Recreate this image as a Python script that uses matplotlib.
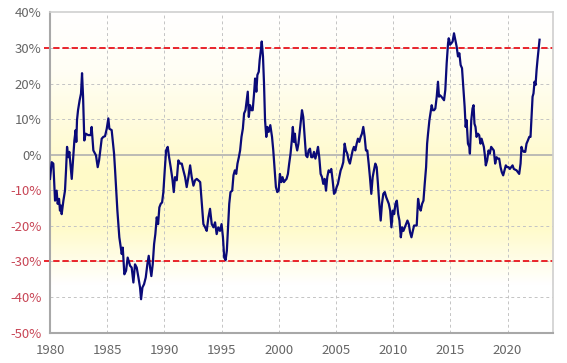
import numpy as np
import matplotlib
matplotlib.use("Agg")
import matplotlib.pyplot as plt
import matplotlib.transforms as mtransforms
from matplotlib.colors import LinearSegmentedColormap

plt.rcParams["font.family"] = ["Noto Sans CJK JP", "DejaVu Sans"]

# ── Data ──────────────────────────────────────
years = [
    1980.00, 1980.15, 1980.29, 1980.44, 1980.58, 1980.67, 1980.79, 1980.87, 1980.96, 1981.02,
    1981.17, 1981.31, 1981.40, 1981.49, 1981.60, 1981.69, 1981.78, 1981.90, 1982.01, 1982.13,
    1982.24, 1982.30, 1982.36, 1982.45, 1982.59, 1982.71, 1982.80, 1982.89, 1983.00, 1983.12,
    1983.35, 1983.56, 1983.64, 1983.79, 1983.94, 1984.02, 1984.17, 1984.29, 1984.40, 1984.52,
    1984.66, 1984.81, 1984.96, 1985.10, 1985.19, 1985.39, 1985.60, 1985.69, 1985.89, 1986.06,
    1986.27, 1986.36, 1986.50, 1986.65, 1986.79, 1987.00, 1987.14, 1987.29, 1987.43, 1987.58,
    1987.73, 1987.87, 1987.96, 1988.08, 1988.22, 1988.37, 1988.51, 1988.63, 1988.75, 1988.86,
    1988.98, 1989.10, 1989.21, 1989.33, 1989.45, 1989.56, 1989.68, 1989.80, 1989.91, 1990.03,
    1990.15, 1990.29, 1990.41, 1990.55, 1990.70, 1990.82, 1990.93, 1991.08, 1991.22, 1991.37,
    1991.52, 1991.66, 1991.81, 1991.95, 1992.10, 1992.25, 1992.39, 1992.54, 1992.68, 1992.83,
    1992.97, 1993.13, 1993.27, 1993.41, 1993.56, 1993.70, 1993.85, 1993.99, 1994.14, 1994.29,
    1994.43, 1994.57, 1994.71, 1994.86, 1995.00, 1995.12, 1995.23, 1995.35, 1995.46, 1995.58,
    1995.67, 1995.78, 1995.93, 1996.04, 1996.16, 1996.28, 1996.39, 1996.51, 1996.62, 1996.74,
    1996.86, 1996.97, 1997.09, 1997.20, 1997.29, 1997.38, 1997.49, 1997.61, 1997.72, 1997.84,
    1997.93, 1998.04, 1998.13, 1998.25, 1998.33, 1998.42, 1998.51, 1998.62, 1998.71, 1998.80,
    1998.91, 1999.00, 1999.12, 1999.26, 1999.41, 1999.52, 1999.64, 1999.75, 1999.87, 1999.99,
    2000.10, 2000.22, 2000.33, 2000.45, 2000.57, 2000.68, 2000.80, 2000.91, 2001.03, 2001.14,
    2001.23, 2001.32, 2001.41, 2001.49, 2001.61, 2001.72, 2001.91, 2002.03, 2002.14, 2002.26,
    2002.38, 2002.50, 2002.61, 2002.73, 2002.84, 2002.96, 2003.08, 2003.20, 2003.31, 2003.43,
    2003.54, 2003.66, 2003.78, 2003.89, 2004.01, 2004.13, 2004.24, 2004.36, 2004.48, 2004.59,
    2004.71, 2004.83, 2004.94, 2005.06, 2005.17, 2005.29, 2005.41, 2005.52, 2005.64, 2005.76,
    2005.87, 2005.99, 2006.11, 2006.22, 2006.34, 2006.46, 2006.57, 2006.69, 2006.81, 2006.92,
    2007.04, 2007.16, 2007.27, 2007.39, 2007.51, 2007.62, 2007.74, 2007.86, 2007.97, 2008.09,
    2008.21, 2008.32, 2008.44, 2008.56, 2008.67, 2008.79, 2008.91, 2009.02, 2009.14, 2009.27,
    2009.39, 2009.51, 2009.62, 2009.74, 2009.85, 2009.97, 2010.09, 2010.20, 2010.32, 2010.44,
    2010.55, 2010.67, 2010.78, 2010.90, 2011.02, 2011.13, 2011.25, 2011.37, 2011.48, 2011.60,
    2011.72, 2011.83, 2011.95, 2012.06, 2012.18, 2012.30, 2012.41, 2012.53, 2012.65, 2012.76,
    2012.88, 2012.97, 2013.05, 2013.17, 2013.28, 2013.37, 2013.46, 2013.58, 2013.69, 2013.81,
    2013.92, 2014.01, 2014.10, 2014.22, 2014.33, 2014.45, 2014.56, 2014.68, 2014.80, 2014.86,
    2014.97, 2015.09, 2015.20, 2015.32, 2015.43, 2015.55, 2015.67, 2015.79, 2015.90, 2016.02,
    2016.13, 2016.25, 2016.34, 2016.42, 2016.54, 2016.66, 2016.71, 2016.83, 2016.94, 2017.03,
    2017.11, 2017.20, 2017.29, 2017.41, 2017.52, 2017.64, 2017.73, 2017.81, 2017.93, 2018.02,
    2018.10, 2018.22, 2018.34, 2018.45, 2018.57, 2018.69, 2018.80, 2018.92, 2019.04, 2019.15,
    2019.27, 2019.39, 2019.50, 2019.62, 2019.74, 2019.85, 2019.97, 2020.09, 2020.20, 2020.32,
    2020.44, 2020.55, 2020.67, 2020.79, 2020.90, 2021.02, 2021.14, 2021.22, 2021.31, 2021.43,
    2021.55, 2021.66, 2021.78, 2021.90, 2022.01, 2022.10, 2022.19, 2022.27, 2022.36, 2022.45,
    2022.54, 2022.62, 2022.71, 2022.80,
]
deviation = [
    -6.8, -2.1, -2.5, -12.9, -10.1, -13.8, -12.4, -15.7, -14.3, -16.7,
    -12.9, -10.1, -4.4, 2.2, -0.7, 0.8, -2.5, -6.8, -1.6, 4.0,
    6.9, 3.6, 9.7, 12.5, 15.3, 17.2, 22.9, 16.3, 4.0, 5.9,
    5.5, 5.5, 7.8, 1.2, 0.3, -0.2, -3.5, -1.6, 1.2, 4.5,
    5.0, 5.2, 7.3, 10.2, 7.3, 6.9, 0.3, -4.4, -15.7, -23.2,
    -27.9, -26.1, -33.6, -32.6, -28.9, -31.2, -31.7, -35.9, -30.8, -31.7,
    -34.5, -37.3, -40.6, -37.3, -36.4, -34.5, -30.8, -28.4, -31.7, -34.1,
    -30.8, -25.1, -22.3, -17.6, -19.5, -14.8, -13.8, -13.4, -10.5, -4.4,
    1.2, 2.2, -0.7, -3.5, -6.8, -10.5, -6.3, -7.2, -1.6, -2.5,
    -2.5, -4.4, -6.3, -9.1, -6.3, -3.0, -6.3, -8.7, -7.2, -6.8,
    -7.2, -7.7, -13.8, -19.5, -20.4, -21.4, -17.6, -15.2, -19.5, -20.4,
    -19.0, -22.3, -20.4, -21.4, -19.5, -23.2, -28.9, -29.6, -27.0, -19.5,
    -13.8, -10.5, -10.1, -5.8, -4.4, -5.4, -2.5, -0.7, 1.2, 5.0,
    7.3, 11.6, 12.5, 15.3, 17.7, 10.6, 13.9, 12.5, 12.5, 17.2,
    21.4, 17.7, 22.4, 23.3, 26.6, 29.0, 31.8, 27.6, 20.0, 9.7,
    5.0, 7.8, 6.4, 8.3, 5.0, 1.2, -4.4, -9.1, -10.5, -10.1,
    -5.4, -7.7, -6.3, -7.7, -7.2, -6.8, -5.4, -2.5, 0.3, 4.0,
    7.8, 3.6, 5.9, 3.1, 1.2, 3.1, 8.7, 12.5, 10.6, 5.0,
    -0.2, -0.7, 1.2, 1.7, -0.7, -0.7, 0.8, -1.1, 0.3, 2.2,
    -0.7, -5.4, -6.3, -8.2, -6.8, -10.1, -6.3, -4.4, -4.9, -4.0,
    -7.2, -11.0, -10.5, -9.1, -8.2, -6.3, -4.4, -3.5, -2.1, 3.1,
    1.2, 0.3, -1.6, -2.5, -0.7, 1.2, 2.2, 1.2, 3.1, 4.5,
    3.6, 5.0, 5.9, 7.8, 5.0, 1.2, 1.2, -2.5, -6.3, -11.0,
    -6.3, -4.4, -2.5, -3.5, -8.2, -13.8, -18.5, -13.8, -11.0, -10.5,
    -11.9, -12.9, -13.8, -15.7, -20.4, -15.7, -16.7, -13.8, -12.9, -16.7,
    -18.5, -23.2, -20.4, -21.4, -20.4, -19.5, -18.5, -19.5, -21.8, -23.2,
    -21.4, -19.9, -19.9, -19.9, -12.4, -14.8, -15.7, -13.8, -12.9, -8.2,
    -3.5, 3.1, 5.9, 9.7, 12.0, 13.9, 12.5, 12.5, 13.0, 16.3,
    20.5, 16.3, 16.7, 16.3, 15.8, 15.3, 18.2, 25.7, 31.3, 32.7,
    30.9, 31.3, 31.8, 34.1, 32.3, 30.4, 27.6, 28.5, 25.2, 24.3,
    19.1, 13.5, 7.8, 9.7, 3.1, 2.2, 0.3, 9.7, 13.0, 13.9,
    8.7, 7.8, 5.0, 5.9, 5.5, 3.1, 4.5, 3.6, 2.2, -0.2,
    -3.0, -1.6, 1.2, 0.3, 2.2, 1.7, 1.2, -2.5, -0.7, -1.1,
    -1.1, -3.5, -4.9, -5.8, -4.4, -3.0, -3.5, -3.5, -4.0, -3.5,
    -3.0, -4.0, -4.2, -4.4, -4.9, -5.4, -2.5, 2.2, 1.2, 0.8,
    0.8, 3.1, 4.0, 5.0, 5.0, 10.6, 16.3, 17.2, 20.5, 19.6,
    23.8, 26.6, 29.4, 32.3,
]
band_levels = [30, -30]
y_ticks = [40, 30, 20, 10, 0, -10, -20, -30, -40, -50]
x_ticks = [1980, 1985, 1990, 1995, 2000, 2005, 2010, 2015, 2020]

# ── Figure ────────────────────────────────────
fig = plt.figure(figsize=(5.67, 3.63), dpi=100)
ax = fig.add_axes([0.0882, 0.0835, 0.8876, 0.8826])

# background: white at top -> pale yellow around -10% -> white below -30%
bg = LinearSegmentedColormap.from_list(
    "bg", [(0.0, "#ffffff"), (0.18, "#fffef5"), (0.50, "#fffac8"),
           (0.68, "#fffbcc"), (0.85, "#ffffff"), (1.0, "#ffffff")])
grad = np.linspace(0, 1, 256).reshape(-1, 1)
ax.imshow(grad, aspect="auto", cmap=bg, extent=[1980, 2024, -50, 40],
          origin="upper", zorder=0)
ax.set_xlim(1980, 2024)
ax.set_ylim(-50, 40)

# grid
for y in y_ticks:
    if y == 0:
        ax.axhline(y, color="#b0b0b0", lw=1.2, zorder=1)
    elif -50 < y < 40:
        ax.axhline(y, color="#c4c4c4", lw=0.7, ls=(0, (3, 3)), zorder=1)
for x in x_ticks[1:]:
    ax.axvline(x, color="#c4c4c4", lw=0.7, ls=(0, (3, 3)), zorder=1)

# ±30% bands
trans = mtransforms.blended_transform_factory(ax.transAxes, ax.transData)
for lvl in band_levels:
    ax.plot([-0.012, 1.0], [lvl, lvl], transform=trans, color="#e8141c",
            lw=1.3, ls=(0, (3.5, 1.6)), clip_on=False, zorder=2)

ax.plot(years, deviation, color="#0a0a78", lw=1.6, zorder=3)

# ticks
ax.set_yticks(y_ticks)
ax.set_yticklabels([f"{v}%" for v in y_ticks])
for lab, v in zip(ax.get_yticklabels(), y_ticks):
    lab.set_color("#c84656" if v < 0 else "#666666")
ax.set_xticks(x_ticks)
ax.set_xticklabels([str(v) for v in x_ticks], color="#666666")
ax.tick_params(axis="y", length=0, labelsize=9.5, pad=6)
ax.tick_params(axis="x", length=0, labelsize=9.5, pad=8)

for side in ["left", "bottom"]:
    ax.spines[side].set_color("#a8a8a8")
    ax.spines[side].set_linewidth(1.5)
for side in ["top", "right"]:
    ax.spines[side].set_color("#cfcfcf")
    ax.spines[side].set_linewidth(1.2)

plt.savefig("out.png", dpi=100)
plt.close()
